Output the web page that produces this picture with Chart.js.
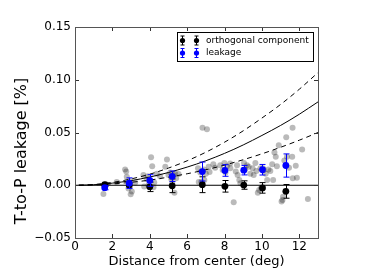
<!DOCTYPE html>
<html><head><meta charset="utf-8">
<script src="https://cdn.jsdelivr.net/npm/chart.js@4/dist/chart.umd.min.js"></script>
<style>html,body{margin:0;padding:0;background:#fff;}</style>
</head><body>
<canvas id="c" width="374" height="280"></canvas>
<script>
// ---- data ----
const binX = [1.59, 2.9, 4.0, 5.2, 6.81, 8.02, 9.03, 10.03, 11.28];
const leakY = [-0.0023, 0.002, 0.0045, 0.0085, 0.013, 0.014, 0.0143, 0.0147, 0.0187];
const leakErr = [0.002, 0.005, 0.0055, 0.005, 0.009, 0.0055, 0.0045, 0.005, 0.011];
const orthY = [0.0005, 0.0003, -0.0015, -0.0005, 0.0005, -0.001, 0.0002, -0.0025, -0.0058];
const orthErr = [0.0015, 0.002, 0.0045, 0.0065, 0.0075, 0.0055, 0.004, 0.005, 0.0065];

const grayX = [1.52,1.66,2.23,2.68,2.74,2.77,2.86,2.98,3.04,3.22,3.66,3.84,4.07,4.13,3.93,4.2,4.24,3.7,4.38,4.83,
  4.92,5.0,5.27,5.36,5.32,5.41,5.54,6.58,6.82,7.06,6.76,6.92,7.0,7.15,7.5,7.77,7.9,7.99,8.13,8.31,
  8.49,8.67,8.7,8.79,8.85,9.04,9.2,9.29,9.38,9.56,9.65,9.78,9.85,9.92,10.1,10.2,10.28,10.6,10.67,10.74,
  10.9,11.05,11.13,11.1,11.3,11.34,11.64,11.62,11.65,11.81,11.87,12.15,12.46,
  8.05,8.6,9.1,9.5,9.7,10.05,10.35,10.45,6.7,6.9,7.2,4.55,5.1,5.15,3.9,2.95,11.45,11.2,10.55,9.95,10.8,7.4,8.3,6.62,5.2];
const grayY = [-0.0083,0.001,0.003,0.015,0.013,0.008,-0.003,-0.0086,-0.006,0.0025,0.0097,0.0056,0.0265,0.018,0.0,-0.002,0.0025,-0.0013,0.011,0.0176,
  0.0245,0.0097,0.0097,0.011,-0.007,0.0066,0.0107,0.016,0.0545,0.053,0.0034,0.005,0.011,0.0176,0.0167,0.019,0.0145,0.021,0.018,0.016,
  -0.016,0.019,0.0097,0.005,0.002,0.021,0.019,0.0176,0.011,0.0097,0.021,-0.007,-0.0045,0.016,0.0145,0.011,0.005,0.005,0.031,0.027,
  0.038,-0.0155,-0.011,-0.014,0.0454,0.027,0.0545,0.027,0.0066,0.0186,0.007,0.034,-0.013,
  0.012,0.013,0.015,0.016,0.0135,0.016,0.015,0.0135,0.012,0.015,0.0125,0.0085,0.012,0.006,0.0085,0.004,0.0165,0.0235,0.02,-0.0025,0.018,0.02,0.0205,0.003,0.002];

const curveX = [0.2, 1, 2, 3, 4, 5, 6, 7, 8, 9, 10, 11, 12, 13];
const fitY = [0.00002,0.0005,0.002,0.0044,0.0078,0.0121,0.0172,0.0232,0.0302,0.0382,0.0472,0.0567,0.0673,0.079];
const fitUpper = [0.00003,0.0007,0.0027,0.006,0.0105,0.0163,0.0232,0.0313,0.0408,0.0516,0.0637,0.0766,0.091,0.1068];
const fitLower = [0.00001,0.0003,0.0013,0.0028,0.0049,0.0077,0.0109,0.0147,0.0191,0.0242,0.0298,0.036,0.0427,0.050];

const zeroX = [0, 13];
const zeroY = [0, 0];

const xTickVals = [0, 2, 4, 6, 8, 10, 12];
const xTickLabels = ['0', '2', '4', '6', '8', '10', '12'];
const yTickVals = [-0.05, 0, 0.05, 0.10, 0.15];
const yTickLabels = ['\u22120.05', '0.00', '0.05', '0.10', '0.15'];

const legendLabels = ['orthogonal component', 'leakage'];
const xTitle = 'Distance from center (deg)';
const yTitle = 'T-to-P leakage [%]';

// ---- build ----
const pts = (xs, ys) => xs.map((x, i) => ({x: x, y: ys[i]}));
const FONT = 'DejaVu Sans';

const errorBars = {
  id: 'errorBars',
  beforeDatasetDraw(chart, args) {
    const ds = chart.data.datasets[args.index];
    if (!ds.errY) return;
    const ctx = chart.ctx, xs = chart.scales.x, ys = chart.scales.y;
    ctx.save();
    ctx.strokeStyle = ds.errColor;
    ctx.lineWidth = 1;
    ds.data.forEach((p, i) => {
      const px = Math.round(xs.getPixelForValue(p.x)) + 0.5;
      const y1 = ys.getPixelForValue(p.y + ds.errY[i]);
      const y2 = ys.getPixelForValue(p.y - ds.errY[i]);
      ctx.beginPath();
      ctx.moveTo(px, y1); ctx.lineTo(px, y2);
      ctx.moveTo(px - 3, y1); ctx.lineTo(px + 3, y1);
      ctx.moveTo(px - 3, y2); ctx.lineTo(px + 3, y2);
      ctx.stroke();
    });
    ctx.restore();
  }
};

const frameTicks = {
  id: 'frameTicks',
  afterDraw(chart) {
    const ctx = chart.ctx, a = chart.chartArea, xs = chart.scales.x, ys = chart.scales.y;
    ctx.save();
    ctx.strokeStyle = '#333';
    ctx.lineWidth = 1;
    ctx.beginPath();
    xTickVals.forEach(v => {
      const px = Math.round(xs.getPixelForValue(v)) + 0.5;
      ctx.moveTo(px, a.bottom); ctx.lineTo(px, a.bottom - 4);
      ctx.moveTo(px, a.top); ctx.lineTo(px, a.top + 4);
    });
    yTickVals.forEach(v => {
      const py = Math.round(ys.getPixelForValue(v)) + 0.5;
      ctx.moveTo(a.left, py); ctx.lineTo(a.left + 4, py);
      ctx.moveTo(a.right, py); ctx.lineTo(a.right - 4, py);
    });
    ctx.stroke();
    ctx.strokeStyle = '#555';
    ctx.strokeRect(Math.round(a.left) + 0.5, Math.round(a.top) + 0.5,
      Math.round(a.right - a.left), Math.round(a.bottom - a.top));
    // y title
    ctx.save();
    ctx.translate(22, 151);
    ctx.rotate(-Math.PI / 2);
    ctx.fillStyle = '#000';
    ctx.font = '16px "' + FONT + '"';
    ctx.textAlign = 'center';
    ctx.textBaseline = 'middle';
    ctx.fillText(yTitle, 0, 0);
    ctx.restore();
    // legend
    const bx = 177.5, by = 32.5, bw = 136, bh = 29;
    ctx.fillStyle = '#fff';
    ctx.fillRect(bx, by, bw, bh);
    ctx.strokeStyle = '#000';
    ctx.strokeRect(bx, by, bw, bh);
    const colors = ['#000000', '#0000ff'];
    const rows = [40.5, 53];
    legendLabels.forEach((lab, i) => {
      const cy = rows[i];
      [182.5, 196.5].forEach(mx => {
        ctx.strokeStyle = colors[i];
        ctx.beginPath();
        ctx.moveTo(mx, cy - 4.5); ctx.lineTo(mx, cy + 4.5);
        ctx.moveTo(mx - 2, cy - 4.5); ctx.lineTo(mx + 2, cy - 4.5);
        ctx.moveTo(mx - 2, cy + 4.5); ctx.lineTo(mx + 2, cy + 4.5);
        ctx.stroke();
        ctx.fillStyle = colors[i];
        ctx.beginPath(); ctx.arc(mx, cy, 2.6, 0, Math.PI * 2); ctx.fill();
      });
      ctx.fillStyle = '#000';
      ctx.font = '9px "' + FONT + '"';
      ctx.textBaseline = 'middle';
      ctx.textAlign = 'left';
      ctx.fillText(lab, 206, cy);
    });
    ctx.restore();
  }
};

new Chart(document.getElementById('c'), {
  type: 'scatter',
  data: {
    datasets: [
      { label: legendLabels[1], data: pts(binX, leakY), errY: leakErr, errColor: '#0000ff',
        backgroundColor: '#0000ff', borderColor: '#0000ff', pointRadius: 3.4, borderWidth: 0 },
      { label: legendLabels[0], data: pts(binX, orthY), errY: orthErr, errColor: '#000000',
        backgroundColor: '#000000', borderColor: '#000000', pointRadius: 3.4, borderWidth: 0 },
      { label: 'zero', data: pts(zeroX, zeroY), showLine: true, pointRadius: 0,
        borderColor: '#000', borderWidth: 1 },
      { label: 'fit', data: pts(curveX, fitY), showLine: true, pointRadius: 0,
        borderColor: '#000', borderWidth: 1, cubicInterpolationMode: 'monotone' },
      { label: 'upper', data: pts(curveX, fitUpper), showLine: true, pointRadius: 0,
        borderColor: '#000', borderWidth: 1, borderDash: [5, 4], cubicInterpolationMode: 'monotone' },
      { label: 'lower', data: pts(curveX, fitLower), showLine: true, pointRadius: 0,
        borderColor: '#000', borderWidth: 1, borderDash: [5, 4], cubicInterpolationMode: 'monotone' },
      { label: 'samples', data: pts(grayX, grayY), pointRadius: 3,
        backgroundColor: 'rgba(0,0,0,0.27)', borderWidth: 0 }
    ]
  },
  options: {
    responsive: false,
    animation: false,
    devicePixelRatio: 1,
    layout: { padding: { left: 0, right: 56, top: 27, bottom: 0 } },
    plugins: { legend: { display: false }, tooltip: { enabled: false } },
    scales: {
      x: {
        type: 'linear', min: 0, max: 13,
        grid: { display: false, drawTicks: false }, border: { display: false },
        afterBuildTicks: s => { s.ticks = xTickVals.map(v => ({ value: v })); },
        afterFit: s => { s.height = 42; },
        ticks: { color: '#000', font: { family: FONT, size: 12 }, padding: 2,
          maxRotation: 0, autoSkip: false, callback: (v, i) => xTickLabels[i] },
        title: { display: true, text: xTitle, color: '#000', font: { family: FONT, size: 13 },
          padding: { top: 0, bottom: 11 } }
      },
      y: {
        type: 'linear', min: -0.05, max: 0.15,
        grid: { display: false, drawTicks: false }, border: { display: false },
        afterBuildTicks: s => { s.ticks = yTickVals.map(v => ({ value: v })); },
        afterFit: s => { s.width = 75; },
        ticks: { color: '#000', font: { family: FONT, size: 12 }, padding: 4,
          autoSkip: false, callback: (v, i) => yTickLabels[i] },
        title: { display: false }
      }
    }
  },
  plugins: [errorBars, frameTicks]
});
</script>
</body></html>
